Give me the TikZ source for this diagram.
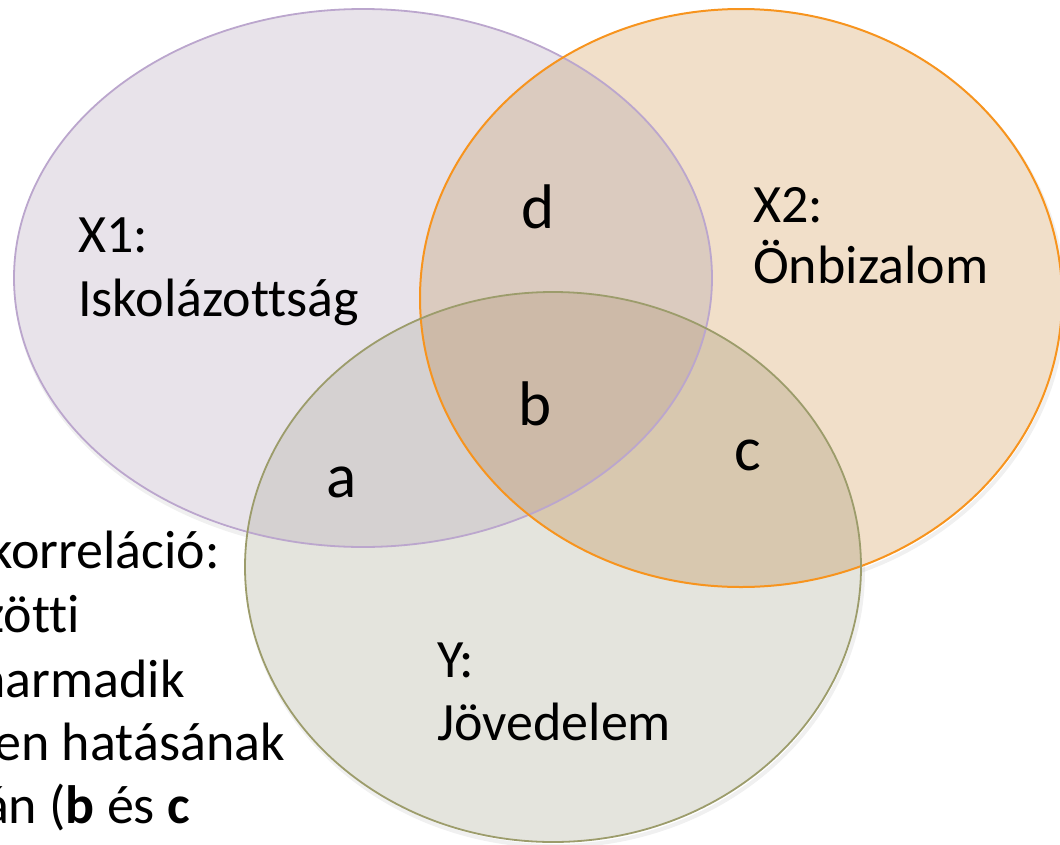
\documentclass[tikz,border=0pt]{standalone}
\usepackage{fontspec}
\setmainfont[Ligatures=NoCommon]{Carlito}
\definecolor{cA}{HTML}{E8E3EA}
\definecolor{cB}{HTML}{F1DFC9}
\definecolor{cC}{HTML}{E4E4DD}
\definecolor{cAB}{HTML}{DBCBBF}
\definecolor{cAC}{HTML}{D5D1D1}
\definecolor{cBC}{HTML}{D8C8AF}
\definecolor{cABC}{HTML}{CDBAA8}
\definecolor{sA}{HTML}{BBA6CD}
\definecolor{sB}{HTML}{F7941E}
\definecolor{sC}{HTML}{9C9C6B}
\tikzset{
  txt/.style={anchor=base west, inner sep=0pt, font=\fontsize{54}{64}\selectfont},
  rtxt/.style={anchor=base east, inner sep=0pt, font=\fontsize{54}{64}\selectfont},
  lbl/.style={anchor=base, inner sep=0pt, font=\fontsize{63}{72}\selectfont},
  shadowline/.style={draw=black, line width=4pt, opacity=0.06},
}
\def\EA{(363,278) ellipse [x radius=349pt, y radius=269pt]}
\def\EB{(741,298) ellipse [x radius=321pt, y radius=289pt]}
\def\EC{(553,567) ellipse [x radius=308pt, y radius=275pt]}
\begin{document}
\begin{tikzpicture}[x=1pt,y=-1pt]
\useasboundingbox (0,0) rectangle (1060,844);
\clip (0,0) rectangle (1060,844);
% soft shadows
\begin{scope}[shift={(2,4)}]
  \path[shadowline] \EA; \path[shadowline] \EB; \path[shadowline] \EC;
\end{scope}
% fills
\fill[cA] \EA;
\fill[cB] \EB;
\fill[cC] \EC;
\begin{scope}\clip \EA; \fill[cAB] \EB; \end{scope}
\begin{scope}\clip \EA; \fill[cAC] \EC; \end{scope}
\begin{scope}\clip \EB; \fill[cBC] \EC; \end{scope}
\begin{scope}\clip \EA; \clip \EB; \fill[cABC] \EC; \end{scope}
% outlines
\draw[sA, line width=1.8pt] \EA;
\draw[sB, line width=2pt] \EB;
\draw[sC, line width=1.8pt] \EC;
% set names
\node[txt] (x1a) at (78,252) {X1:};
\node[txt] (x1b) at (78,316) {Iskolázottság};
\node[txt] (x2a) at (753,222) {X2:};
\node[txt] (x2b) at (753,283) {Önbizalom};
\node[txt] (ya) at (437,677) {Y:};
\node[txt] (yb) at (437,740) {Jövedelem};
% region labels
\node[lbl] (d) at (538,228) {d};
\node[lbl] (b) at (535,425) {b};
\node[lbl] (c) at (748,470) {c};
\node[lbl] (a) at (342,497) {a};
% left text (cut by the picture edge)
\node[rtxt] (l1) at (220,568) {korreláció:};
\node[rtxt] (l2) at (80,632) {zötti};
\node[rtxt] (l3) at (185,697) {harmadik};
\node[rtxt] (l4) at (285,760) {en hatásának};
\node[rtxt] (l5) at (190,823) {án (\textbf{b} és \textbf{c}};
\end{tikzpicture}
\end{document}
